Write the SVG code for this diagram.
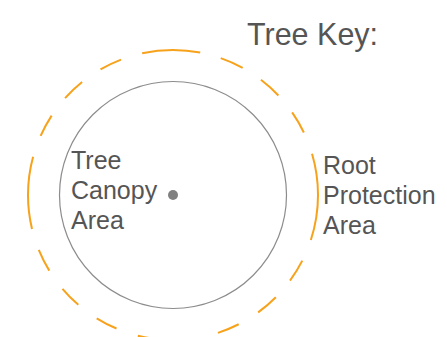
<svg xmlns="http://www.w3.org/2000/svg" width="447" height="337" viewBox="0 0 447 337">
  <style>
    .lbl { font-family: "Liberation Sans", Arial, sans-serif; fill: #555555; }
    .canopy { fill: none; stroke: #8c8c8c; stroke-width: 1.2; }
    .rpa { fill: none; stroke: #F7A21B; stroke-width: 2; stroke-linecap: butt;
           stroke-dasharray: 45.8 22.3 23.5 21.8 23.3 22.8 22.5 23.0 58.2 22.5 22.3 22.8 22.5 22.5 23.3 22.0 72.9 22.3 23.0 22.0 23.5 22.3 22.8 22.0 58.5 21.3 24.0 21.8 23.5 21.8 23.3 22.8 45; }
  </style>
  <rect width="447" height="337" fill="#ffffff"/>
  <g id="title">
    <text class="lbl" x="247" y="45" font-size="30.5">Tree Key:</text>
  </g>
  <g id="root-protection-area">
    <path class="rpa" d="M 318 195 A 145 145 0 0 1 28 195 A 145 145 0 0 1 318 195"/>
    <text class="lbl" font-size="25"><tspan x="323" y="174">Root</tspan><tspan x="323" y="204">Protection</tspan><tspan x="323" y="234">Area</tspan></text>
  </g>
  <g id="tree-canopy-area">
    <circle class="canopy" cx="173" cy="195" r="113.5"/>
    <text class="lbl" font-size="25"><tspan x="71" y="169">Tree</tspan><tspan x="71" y="199">Canopy</tspan><tspan x="71" y="229">Area</tspan></text>
  </g>
  <g id="trunk">
    <circle cx="173" cy="195" r="5" fill="#808080"/>
  </g>
  <g id="connectors"/>
</svg>
